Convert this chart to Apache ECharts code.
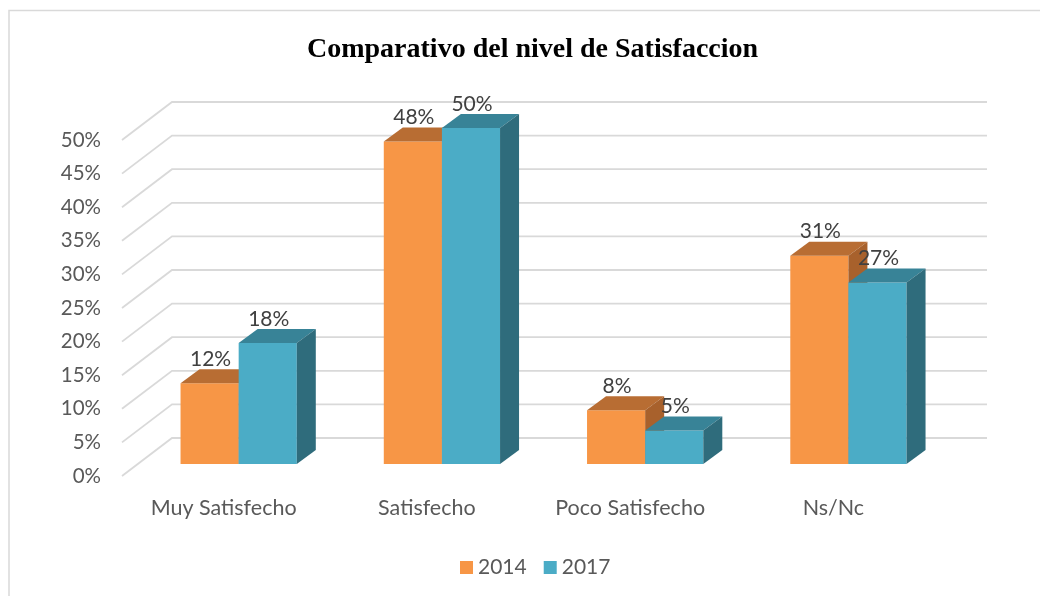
<!DOCTYPE html>
<html>
<head>
<meta charset="utf-8">
<style>
  html, body { margin: 0; padding: 0; background: #ffffff; }
  #chart { width: 1040px; height: 596px; }
</style>
<script src="https://cdn.jsdelivr.net/npm/echarts@6/dist/echarts.min.js"></script>
</head>
<body>
<div id="chart"></div>
<script>
var categories = ['Muy Satisfecho', 'Satisfecho', 'Poco Satisfecho', 'Ns/Nc'];
var seriesNames = ['2014', '2017'];
var values2014 = [12, 48, 8, 31];
var values2017 = [18, 50, 5, 27];
var yTicks = [0, 5, 10, 15, 20, 25, 30, 35, 40, 45, 50];

var FONT = 'Lato, "Open Sans", sans-serif';
var DEPTH_WALL = [50, -38];
var DEPTH_BAR = [19, -14];

var chart = echarts.init(document.getElementById('chart'), null, { renderer: 'canvas' });

function wallRender(params, api) {
  var cs = params.coordSys;
  var y = api.coord([0, api.value(1)])[1];
  return {
    type: 'polyline',
    shape: {
      points: [
        [cs.x, y],
        [cs.x + DEPTH_WALL[0], y + DEPTH_WALL[1]],
        [cs.x + cs.width + 52, y + DEPTH_WALL[1]]
      ]
    },
    style: { stroke: '#d9d9d9', lineWidth: 1.8, fill: null },
    silent: true
  };
}

function barRender(sIdx, front, topC, sideC) {
  return function (params, api) {
    var ci = api.value(0), v = api.value(1);
    var base = api.coord([ci, 0]);
    var top = api.coord([ci, v]);
    var band = api.size([1, 0])[0];
    var bw = band * 0.286;
    var shift = band * 0.074;
    var x0 = base[0] + shift + (sIdx === 0 ? -bw : 0);
    var x1 = x0 + bw;
    var yB = base[1] - 12;
    var yT = top[1] - 12;
    var dx = DEPTH_BAR[0], dy = DEPTH_BAR[1];
    return {
      type: 'group',
      children: [
        { type: 'rect', shape: { x: x0, y: yT, width: bw, height: yB - yT }, style: { fill: front } },
        { type: 'polygon', shape: { points: [[x0, yT], [x1, yT], [x1 + dx, yT + dy], [x0 + dx, yT + dy]] }, style: { fill: topC } },
        { type: 'polygon', shape: { points: [[x1, yT], [x1 + dx, yT + dy], [x1 + dx, yB + dy], [x1, yB]] }, style: { fill: sideC } },
        { type: 'text', x: (x0 + x1) / 2 + 1, y: yT - 24,
          style: { text: v + '%', textAlign: 'center', textVerticalAlign: 'middle',
                   fontFamily: FONT, fontSize: 21, fill: '#404040' } }
      ]
    };
  };
}

var option = {
  animation: false,
  backgroundColor: '#ffffff',
  title: {
    text: 'Comparativo del nivel de Satisfaccion',
    left: 302,
    top: 31,
    textStyle: { fontFamily: '"Liberation Serif", "Times New Roman", serif', fontWeight: 'bold', fontSize: 28, color: '#000000' }
  },
  graphic: [
    { type: 'rect', shape: { x: 9, y: 10.5, width: 1200, height: 800 }, style: { fill: null, stroke: '#d9d9d9', lineWidth: 1.5 }, silent: true, z: -1 }
  ],
  legend: {
    data: seriesNames,
    left: 455,
    top: 552,
    itemWidth: 13,
    itemHeight: 13,
    itemGap: 17,
    icon: 'rect',
    textStyle: { fontFamily: FONT, fontSize: 21, color: '#595959' }
  },
  grid: { left: 122, right: 105, top: 140, bottom: 120, containLabel: false },
  xAxis: {
    type: 'category',
    data: categories,
    axisLine: { show: false },
    axisTick: { show: false },
    axisLabel: { margin: 21, fontFamily: FONT, fontSize: 21.5, color: '#595959' }
  },
  yAxis: {
    type: 'value',
    min: 0,
    max: 50,
    interval: 5,
    axisLine: { show: false },
    axisTick: { show: false },
    splitLine: { show: false },
    axisLabel: { margin: 21, formatter: '{value}%', fontFamily: FONT, fontSize: 20.5, color: '#595959', padding: [8, 0, 0, 0] }
  },
  series: [
    {
      type: 'custom',
      name: 'walls',
      renderItem: wallRender,
      data: yTicks.map(function (t) { return [0, t]; }),
      encode: { x: 0, y: 1 },
      z: 1,
      silent: true
    },
    {
      type: 'custom',
      name: seriesNames[0],
      renderItem: barRender(0, '#F79646', '#B86D33', '#A8612C'),
      data: values2014.map(function (v, i) { return [i, v]; }),
      encode: { x: 0, y: 1 },
      itemStyle: { color: '#F79646' },
      z: 2
    },
    {
      type: 'custom',
      name: seriesNames[1],
      renderItem: barRender(1, '#4BACC6', '#388397', '#2F6C7C'),
      data: values2017.map(function (v, i) { return [i, v]; }),
      encode: { x: 0, y: 1 },
      itemStyle: { color: '#4BACC6' },
      z: 3
    }
  ]
};
chart.setOption(option);
</script>
</body>
</html>
